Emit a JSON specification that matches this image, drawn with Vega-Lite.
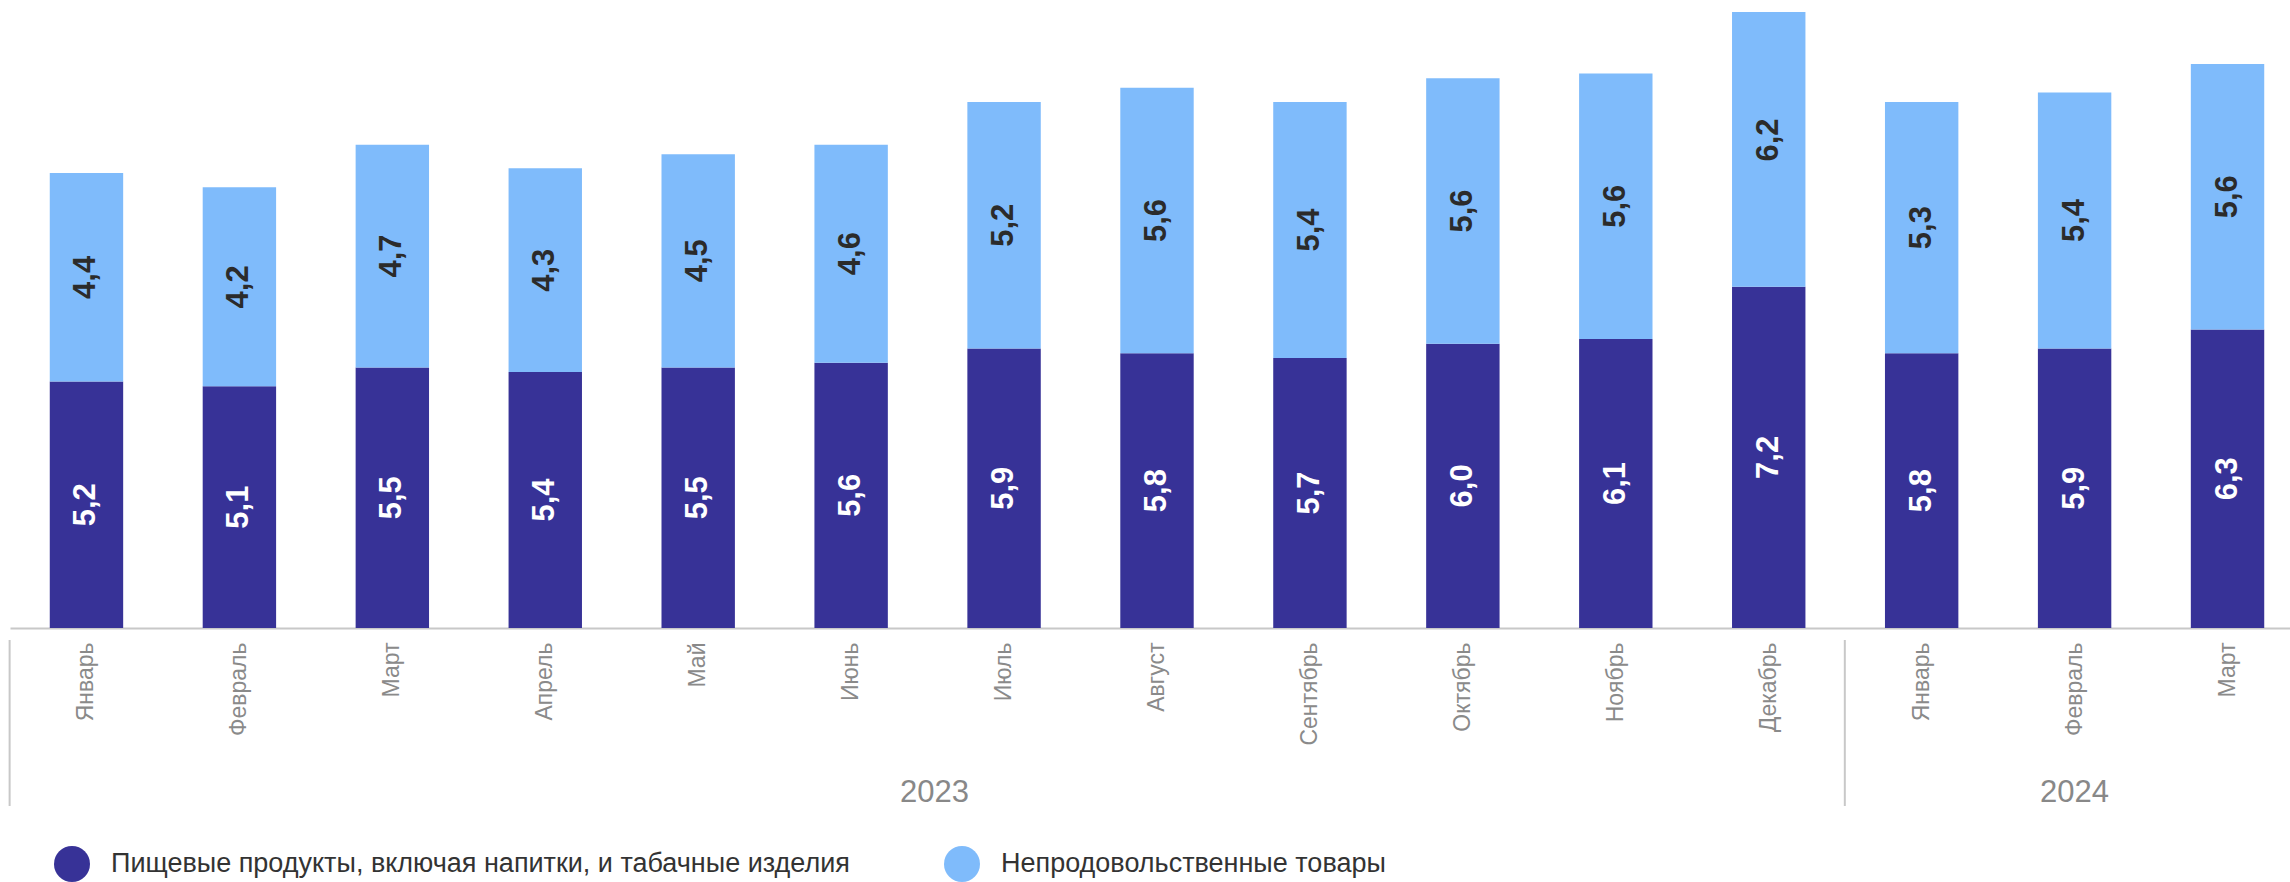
{
  "$schema": "https://vega.github.io/schema/vega-lite/v6.json",
  "width": 2280,
  "height": 616,
  "autosize": {"type": "none"},
  "padding": {"left": 10, "top": 12, "right": 0, "bottom": 254},
  "config": {
    "view": {"stroke": null},
    "font": "Liberation Sans",
    "locale": {"number": {"decimal": ",", "thousands": " ", "grouping": [3], "currency": ["", " ₽"]}}
  },
  "datasets": {
    "bars": [
      {"month": "Январь 2023", "category": "Пищевые продукты, включая напитки, и табачные изделия", "value": 5.2},
      {"month": "Январь 2023", "category": "Непродовольственные товары", "value": 4.4},
      {"month": "Февраль 2023", "category": "Пищевые продукты, включая напитки, и табачные изделия", "value": 5.1},
      {"month": "Февраль 2023", "category": "Непродовольственные товары", "value": 4.2},
      {"month": "Март 2023", "category": "Пищевые продукты, включая напитки, и табачные изделия", "value": 5.5},
      {"month": "Март 2023", "category": "Непродовольственные товары", "value": 4.7},
      {"month": "Апрель 2023", "category": "Пищевые продукты, включая напитки, и табачные изделия", "value": 5.4},
      {"month": "Апрель 2023", "category": "Непродовольственные товары", "value": 4.3},
      {"month": "Май 2023", "category": "Пищевые продукты, включая напитки, и табачные изделия", "value": 5.5},
      {"month": "Май 2023", "category": "Непродовольственные товары", "value": 4.5},
      {"month": "Июнь 2023", "category": "Пищевые продукты, включая напитки, и табачные изделия", "value": 5.6},
      {"month": "Июнь 2023", "category": "Непродовольственные товары", "value": 4.6},
      {"month": "Июль 2023", "category": "Пищевые продукты, включая напитки, и табачные изделия", "value": 5.9},
      {"month": "Июль 2023", "category": "Непродовольственные товары", "value": 5.2},
      {"month": "Август 2023", "category": "Пищевые продукты, включая напитки, и табачные изделия", "value": 5.8},
      {"month": "Август 2023", "category": "Непродовольственные товары", "value": 5.6},
      {"month": "Сентябрь 2023", "category": "Пищевые продукты, включая напитки, и табачные изделия", "value": 5.7},
      {"month": "Сентябрь 2023", "category": "Непродовольственные товары", "value": 5.4},
      {"month": "Октябрь 2023", "category": "Пищевые продукты, включая напитки, и табачные изделия", "value": 6.0},
      {"month": "Октябрь 2023", "category": "Непродовольственные товары", "value": 5.6},
      {"month": "Ноябрь 2023", "category": "Пищевые продукты, включая напитки, и табачные изделия", "value": 6.1},
      {"month": "Ноябрь 2023", "category": "Непродовольственные товары", "value": 5.6},
      {"month": "Декабрь 2023", "category": "Пищевые продукты, включая напитки, и табачные изделия", "value": 7.2},
      {"month": "Декабрь 2023", "category": "Непродовольственные товары", "value": 6.2},
      {"month": "Январь 2024", "category": "Пищевые продукты, включая напитки, и табачные изделия", "value": 5.8},
      {"month": "Январь 2024", "category": "Непродовольственные товары", "value": 5.3},
      {"month": "Февраль 2024", "category": "Пищевые продукты, включая напитки, и табачные изделия", "value": 5.9},
      {"month": "Февраль 2024", "category": "Непродовольственные товары", "value": 5.4},
      {"month": "Март 2024", "category": "Пищевые продукты, включая напитки, и табачные изделия", "value": 6.3},
      {"month": "Март 2024", "category": "Непродовольственные товары", "value": 5.6}
    ],
    "years": [
      {"month": "Январь 2023", "year": "2023", "role": "sep"},
      {"month": "Январь 2024", "year": "2024", "role": "sep"},
      {"month": "Июль 2023", "year": "2023", "role": "label"},
      {"month": "Февраль 2024", "year": "2024", "role": "label"}
    ]
  },
  "encoding": {
    "x": {
      "field": "month",
      "type": "nominal",
      "scale": {
        "domain": ["Январь 2023", "Февраль 2023", "Март 2023", "Апрель 2023", "Май 2023", "Июнь 2023", "Июль 2023", "Август 2023", "Сентябрь 2023", "Октябрь 2023", "Ноябрь 2023", "Декабрь 2023", "Январь 2024", "Февраль 2024", "Март 2024"],
        "range": [0, 2294],
        "paddingInner": 0.52,
        "paddingOuter": 0.26
      },
      "axis": {
        "title": null,
        "labelAngle": -90,
        "labelExpr": "split(datum.label, ' ')[0]",
        "labelFontSize": 23,
        "labelColor": "#8a8a8a",
        "labelFont": "Liberation Sans",
        "ticks": false,
        "tickSize": 0,
        "labelPadding": 14,
        "domainColor": "#c8c8c8",
        "domainWidth": 2
      }
    }
  },
  "layer": [
    {
      "data": {"name": "bars"},
      "transform": [
        {"stack": "value", "groupby": ["month"], "sort": [{"field": "category", "order": "descending"}], "as": ["v0", "v1"]}
      ],
      "mark": {"type": "bar", "clip": true},
      "encoding": {
        "y": {"field": "v0", "type": "quantitative", "scale": {"domain": [0, 13], "nice": false, "zero": true}, "axis": null},
        "y2": {"field": "v1"},
        "color": {
          "field": "category",
          "type": "nominal",
          "scale": {
            "domain": ["Пищевые продукты, включая напитки, и табачные изделия", "Непродовольственные товары"],
            "range": ["#373297", "#7FBBFB"]
          },
          "legend": {
            "orient": "none",
            "direction": "horizontal",
            "legendX": 44,
            "legendY": 834,
            "title": null,
            "padding": 0,
            "symbolType": "circle",
            "symbolSize": 1296,
            "symbolStrokeWidth": 0,
            "symbolOpacity": 1,
            "labelFontSize": 27,
            "labelFont": "Liberation Sans",
            "labelColor": "#333333",
            "labelOffset": 21,
            "columnPadding": 94,
            "labelLimit": 0
          }
        }
      }
    },
    {
      "data": {"name": "bars"},
      "transform": [
        {"stack": "value", "groupby": ["month"], "sort": [{"field": "category", "order": "descending"}], "as": ["v0", "v1"]},
        {"fold": ["v0", "v1"], "as": ["edge", "pos"]},
        {"aggregate": [{"op": "mean", "field": "pos", "as": "mid"}], "groupby": ["month", "category", "value"]}
      ],
      "mark": {"type": "text", "angle": -90, "align": "center", "baseline": "middle", "fontSize": 31, "fontWeight": "bold", "font": "Liberation Sans"},
      "encoding": {
        "x": {"field": "month", "type": "nominal", "bandPosition": 0.5},
        "y": {"field": "mid", "type": "quantitative"},
        "text": {"field": "value", "type": "quantitative", "format": ".1f"},
        "color": {
          "condition": {"test": "datum.category === 'Непродовольственные товары'", "value": "#2b2b2b"},
          "value": "#ffffff"
        }
      }
    },
    {
      "data": {"name": "years"},
      "transform": [{"filter": "datum.role === 'sep'"}],
      "mark": {"type": "rule", "color": "#c8c8c8", "strokeWidth": 2},
      "encoding": {
        "x": {"field": "month", "type": "nominal", "bandPosition": -0.547},
        "y": {"datum": -0.253, "type": "quantitative"},
        "y2": {"datum": -3.756}
      }
    },
    {
      "data": {"name": "years"},
      "transform": [{"filter": "datum.role === 'label' && datum.year === '2023'"}],
      "mark": {"type": "text", "fontSize": 31, "color": "#888888", "baseline": "middle", "align": "center", "font": "Liberation Sans"},
      "encoding": {
        "x": {"field": "month", "type": "nominal", "bandPosition": -0.447},
        "y": {"datum": -3.48, "type": "quantitative"},
        "text": {"field": "year"}
      }
    },
    {
      "data": {"name": "years"},
      "transform": [{"filter": "datum.role === 'label' && datum.year === '2024'"}],
      "mark": {"type": "text", "fontSize": 31, "color": "#888888", "baseline": "middle", "align": "center", "font": "Liberation Sans"},
      "encoding": {
        "x": {"field": "month", "type": "nominal", "bandPosition": 0.5},
        "y": {"datum": -3.48, "type": "quantitative"},
        "text": {"field": "year"}
      }
    }
  ]
}
